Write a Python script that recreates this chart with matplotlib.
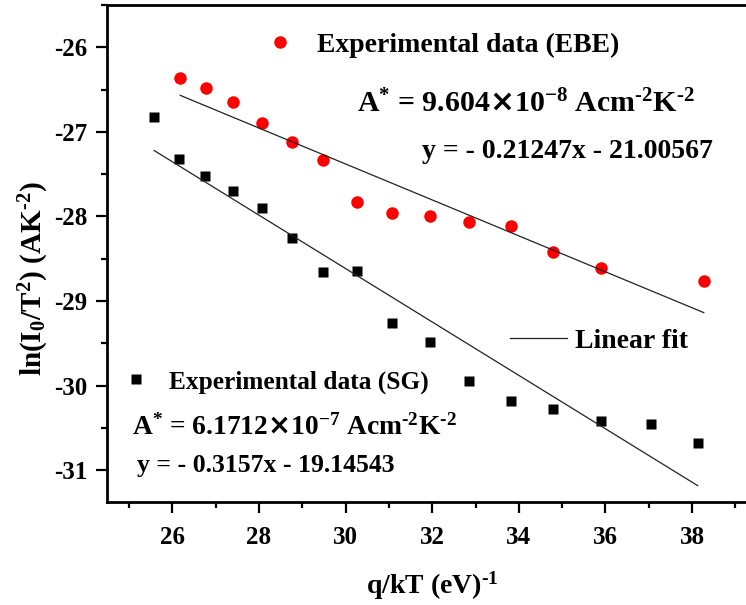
import numpy as np
import matplotlib
matplotlib.use("Agg")
import matplotlib.pyplot as plt
from matplotlib.ticker import MultipleLocator

# ---- data ----
x_ebe = [26.18, 26.78, 27.40, 28.07, 28.76, 29.48, 30.27, 31.08, 31.94, 32.84, 33.81, 34.80, 35.89, 38.27]
y_ebe = [-26.36, -26.48, -26.65, -26.90, -27.12, -27.33, -27.83, -27.96, -28.00, -28.07, -28.11, -28.42, -28.61, -28.76]

x_sg = [25.58, 26.15, 26.76, 27.40, 28.07, 28.76, 29.48, 30.27, 31.08, 31.94, 32.84, 33.81, 34.80, 35.89, 37.05, 38.13]
y_sg = [-26.82, -27.32, -27.52, -27.70, -27.90, -28.25, -28.66, -28.64, -29.26, -29.49, -29.95, -30.18, -30.28, -30.42, -30.45, -30.68]

fit_ebe = (-0.21247, -21.00567)   # slope, intercept
fit_sg = (-0.3157, -19.14543)

xticks = [26, 28, 30, 32, 34, 36, 38]
yticks = [-31, -30, -29, -28, -27, -26]

# ---- style ----
plt.rcParams['font.family'] = ['Liberation Serif', 'DejaVu Serif']
plt.rcParams['font.weight'] = 'bold'
plt.rcParams['axes.unicode_minus'] = False
plt.rcParams['mathtext.fontset'] = 'custom'
plt.rcParams['mathtext.rm'] = 'Liberation Serif:bold'
plt.rcParams['mathtext.it'] = 'Liberation Serif:bold'
plt.rcParams['mathtext.bf'] = 'Liberation Serif:bold'
plt.rcParams['mathtext.sf'] = 'DejaVu Sans'

W, H = 746, 605
fig = plt.figure(figsize=(W / 100, H / 100), dpi=100)

def fx(px):
    return px / W

def fy(py):
    return 1 - py / H

left, right, top, bottom = 107, 757, 5, 502.3
ax = fig.add_axes([fx(left), fy(bottom), (right - left) / W, (bottom - top) / H])

ln_ebe, = ax.plot(x_ebe, y_ebe, 'o', color='#ff0000', ms=9, mec='none', ls='none',
                  label='Experimental data (EBE)')
ln_sg, = ax.plot(x_sg, y_sg, 's', color='black', ms=7.5, mec='none', ls='none',
                 label='Experimental data (SG)')

xe = np.array([min(x_ebe), max(x_ebe)])
ln_fit, = ax.plot(xe, fit_ebe[0] * xe + fit_ebe[1], color='#222222', lw=0.9, label='Linear fit')
xs = np.array([min(x_sg), max(x_sg)])
ax.plot(xs, fit_sg[0] * xs + fit_sg[1], color='#222222', lw=0.9)

ax.set_xlim(24.49, 39.5)
ax.set_ylim(-31.38, -25.5)
ax.set_xticks(xticks)
ax.set_yticks(yticks)
ax.xaxis.set_minor_locator(MultipleLocator(1))
ax.yaxis.set_minor_locator(MultipleLocator(0.5))
ax.tick_params(which='major', direction='out', length=8, width=1.6, labelsize=18, pad=6)
ax.tick_params(which='minor', direction='out', length=4.5, width=1.6)
ax.tick_params(axis='x', which='major', pad=9)
for s in ax.spines.values():
    s.set_linewidth(2)

ax.set_xlabel(r'q/kT (eV)$^{\text{-}1}$', fontsize=20, fontweight='bold')
ax.xaxis.set_label_coords(0.5, (bottom - 586) / (bottom - top))
ax.xaxis.label.set_va('center')
ax.set_ylabel(r'$\mathregular{ln(I_0/T^2)\ (AK^{\text{-}2})}$', fontsize=21, fontweight='bold')
ax.yaxis.set_label_coords((34 - left) / (right - left), 1 - (279 - top) / (bottom - top))
ax.yaxis.label.set_va('center')

# ---- legends ----
leg1 = ax.legend(handles=[ln_ebe], loc='center left', bbox_to_anchor=(fx(266), fy(45)),
                 bbox_transform=fig.transFigure, frameon=False,
                 handlelength=1, handletextpad=0.83, borderpad=0, borderaxespad=0,
                 prop={'weight': 'bold', 'size': 20})
ax.add_artist(leg1)
leg2 = ax.legend(handles=[ln_sg], loc='center left', bbox_to_anchor=(fx(123), fy(382)),
                 bbox_transform=fig.transFigure, frameon=False,
                 handlelength=1, handletextpad=0.8, borderpad=0, borderaxespad=0,
                 prop={'weight': 'bold', 'size': 18.3})
ax.add_artist(leg2)
leg3 = ax.legend(handles=[ln_fit], loc='center left', bbox_to_anchor=(fx(510), fy(341)),
                 bbox_transform=fig.transFigure, frameon=False,
                 handlelength=2.05, handletextpad=0.29, borderpad=0, borderaxespad=0,
                 prop={'weight': 'bold', 'size': 20})

# ---- annotations ----
fig.text(fx(357), fy(112), r'A$^{*}$ = 9.604$\mathsf{\times}$10$^{-8}$ Acm$^{\text{-}2}$K$^{\text{-}2}$',
         fontsize=21.5, fontweight='bold', ha='left', va='baseline')
fig.text(fx(422), fy(158), 'y = - 0.21247x - 21.00567',
         fontsize=20, fontweight='bold', ha='left', va='baseline')
fig.text(fx(132), fy(435), r'A$^{*}$ = 6.1712$\mathsf{\times}$10$^{-7}$ Acm$^{\text{-}2}$K$^{\text{-}2}$',
         fontsize=19.8, fontweight='bold', ha='left', va='baseline')
fig.text(fx(137), fy(472), 'y = - 0.3157x - 19.14543',
         fontsize=18.5, fontweight='bold', ha='left', va='baseline')

fig.savefig('out.png', dpi=100)
